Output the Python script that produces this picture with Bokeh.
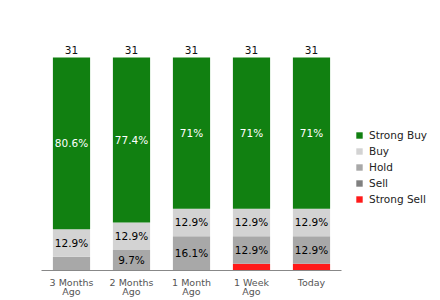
from bokeh.plotting import figure
from bokeh.models import ColumnDataSource, Range1d, FactorRange, Legend, LegendItem
from bokeh.core.properties import value
from bokeh.embed import file_html
from bokeh.resources import INLINE

periods = ["3 Months\nAgo", "2 Months\nAgo", "1 Month\nAgo", "1 Week\nAgo", "Today"]
strong_buy = [25, 24, 22, 22, 22]
buy = [4, 4, 4, 4, 4]
hold = [2, 3, 5, 4, 4]
sell = [0, 0, 0, 0, 0]
strong_sell = [0, 0, 0, 1, 1]
series_names = ["Strong Buy", "Buy", "Hold", "Sell", "Strong Sell"]
colors = ["#118011", "#d3d3d3", "#a8a8a8", "#808080", "#ff1a1a"]
label_colors = ["white", "black", "black", "black", "black"]

stack_order = ["strong_sell", "sell", "hold", "buy", "strong_buy"]
data = dict(x=periods, strong_buy=strong_buy, buy=buy, hold=hold, sell=sell, strong_sell=strong_sell)
totals = [a + b + c + d + e for a, b, c, d, e in zip(strong_buy, buy, hold, sell, strong_sell)]
data["total"] = totals
src = ColumnDataSource(data)

p = figure(x_range=FactorRange(*periods), y_range=Range1d(0, 33.48),
           frame_width=300, frame_height=230,
           output_backend="svg", toolbar_location=None,
           min_border_left=41, min_border_right=0, min_border_top=40, min_border_bottom=0)
p.outline_line_color = None
p.xgrid.visible = False
p.ygrid.visible = False
p.yaxis.visible = False
p.xaxis.axis_line_color = "#888888"
p.xaxis.major_tick_line_color = None
p.xaxis.minor_tick_line_color = None
p.xaxis.major_label_text_font = "DejaVu Sans"
p.xaxis.major_label_text_font_size = "9.5px"
p.xaxis.major_label_text_color = "#555555"
p.xaxis.major_label_standoff = 0
p.xaxis.major_label_text_line_height = 0.9

key_map = {"strong_buy": 0, "buy": 1, "hold": 2, "sell": 3, "strong_sell": 4}
renders = p.vbar_stack(stack_order, x="x", width=0.62, source=src,
                       color=[colors[key_map[k]] for k in stack_order], line_color=None)

# segment labels
bottoms = [0] * len(periods)
lab_x, lab_y, lab_t, lab_c = [], [], [], []
for k in stack_order:
    vals = data[k]
    i_col = label_colors[key_map[k]]
    for i, v in enumerate(vals):
        if v >= 3:
            pct = round(v / totals[i] * 100, 1)
            txt = (f"{pct:.1f}".rstrip("0").rstrip(".")) + "%"
            lab_x.append(periods[i])
            lab_y.append(bottoms[i] + v / 2)
            lab_t.append(txt)
            lab_c.append(i_col)
        bottoms[i] += v
p.text(x=lab_x, y=lab_y, text=lab_t, text_color=lab_c, text_align="center", text_baseline="middle",
       text_font=value("DejaVu Sans"), text_font_size="10.5px")
p.text(x="x", y="total", source=src, text="total", text_align="center", text_baseline="bottom",
       y_offset=-4, text_font=value("DejaVu Sans"), text_font_size="10.5px", text_color="#111111")

legend_order = ["strong_buy", "buy", "hold", "sell", "strong_sell"]
items = [LegendItem(label=series_names[key_map[k]], renderers=[renders[stack_order.index(k)]]) for k in legend_order]
legend = Legend(items=items, location=(14, 65), border_line_color=None, background_fill_alpha=0,
                label_text_font="DejaVu Sans", label_text_font_size="10.5px", label_text_color="#222222",
                glyph_width=8, glyph_height=8, spacing=4, label_height=10, padding=0, margin=0,
                label_standoff=6)
p.add_layout(legend, "right")

open("out.html", "w").write(file_html(p, INLINE))
